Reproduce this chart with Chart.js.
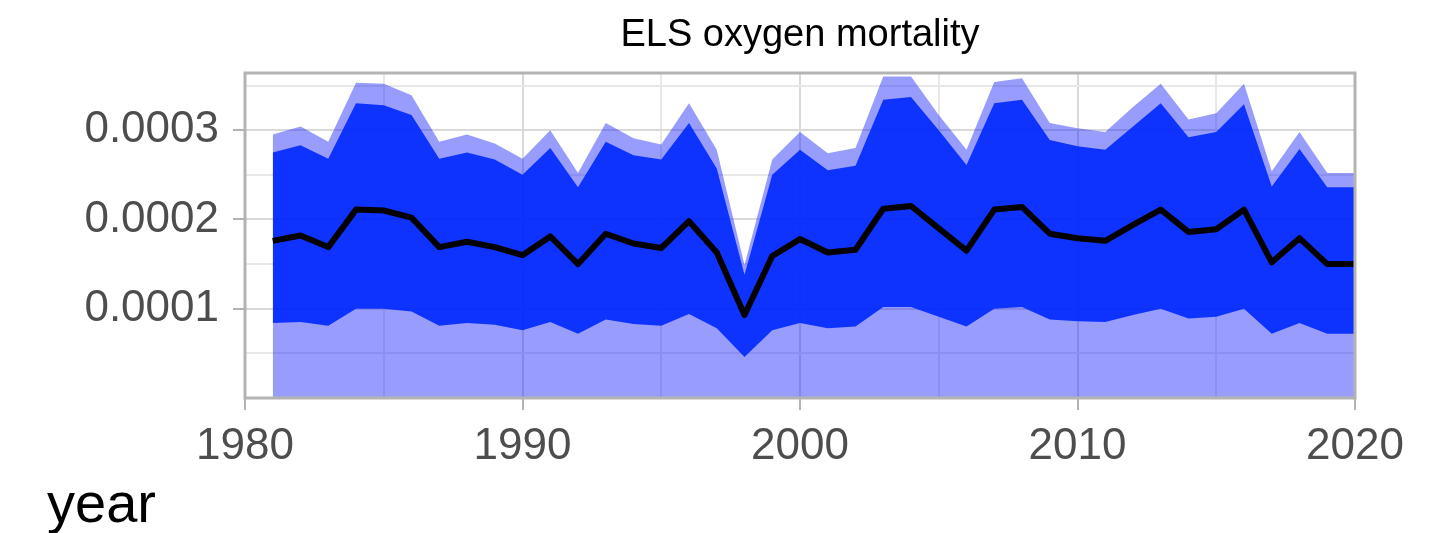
<!DOCTYPE html>
<html>
<head>
<meta charset="utf-8">
<script src="https://cdn.jsdelivr.net/npm/chart.js@4.4.1/dist/chart.umd.min.js"></script>
<style>
  body { margin: 0; background: #fff; }
</style>
</head>
<body>
<canvas id="myChart" width="1439" height="533"></canvas>
<script>
// DADOS

const years = [1981, 1982, 1983, 1984, 1985, 1986, 1987, 1988, 1989, 1990,
    1991, 1992, 1993, 1994, 1995, 1996, 1997, 1998, 1999, 2000,
    2001, 2002, 2003, 2004, 2005, 2006, 2007, 2008, 2009, 2010,
    2011, 2012, 2013, 2014, 2015, 2016, 2017, 2018, 2019, 2020];

const outerHigh = [2.95e-4, 3.04e-4, 2.87e-4, 3.53e-4, 3.52e-4, 3.39e-4, 2.87e-4, 2.95e-4, 2.85e-4, 2.68e-4,
    3.00e-4, 2.52e-4, 3.08e-4, 2.91e-4, 2.84e-4, 3.30e-4, 2.78e-4, 1.49e-4, 2.67e-4, 2.98e-4,
    2.74e-4, 2.80e-4, 3.60e-4, 3.60e-4, 3.17e-4, 2.78e-4, 3.54e-4, 3.58e-4, 3.08e-4, 3.02e-4,
    2.98e-4, 3.26e-4, 3.52e-4, 3.12e-4, 3.19e-4, 3.52e-4, 2.54e-4, 2.98e-4, 2.52e-4, 2.52e-4];

const innerHigh = [2.75e-4, 2.83e-4, 2.68e-4, 3.30e-4, 3.28e-4, 3.17e-4, 2.68e-4, 2.75e-4, 2.67e-4, 2.50e-4,
    2.80e-4, 2.36e-4, 2.87e-4, 2.72e-4, 2.67e-4, 3.08e-4, 2.57e-4, 1.38e-4, 2.50e-4, 2.78e-4,
    2.55e-4, 2.60e-4, 3.34e-4, 3.37e-4, 3.00e-4, 2.61e-4, 3.30e-4, 3.34e-4, 2.89e-4, 2.82e-4,
    2.78e-4, 3.04e-4, 3.30e-4, 2.92e-4, 2.98e-4, 3.29e-4, 2.37e-4, 2.79e-4, 2.36e-4, 2.36e-4];

const median = [1.76e-4, 1.82e-4, 1.69e-4, 2.11e-4, 2.10e-4, 2.02e-4, 1.69e-4, 1.75e-4, 1.69e-4, 1.60e-4,
    1.81e-4, 1.50e-4, 1.84e-4, 1.73e-4, 1.68e-4, 1.98e-4, 1.63e-4, 0.93e-4, 1.59e-4, 1.78e-4,
    1.63e-4, 1.66e-4, 2.12e-4, 2.15e-4, 1.90e-4, 1.65e-4, 2.11e-4, 2.14e-4, 1.84e-4, 1.79e-4,
    1.76e-4, 1.94e-4, 2.11e-4, 1.86e-4, 1.89e-4, 2.11e-4, 1.52e-4, 1.79e-4, 1.50e-4, 1.50e-4];

const innerLow = [0.84e-4, 0.85e-4, 0.81e-4, 1.00e-4, 1.00e-4, 0.97e-4, 0.81e-4, 0.84e-4, 0.82e-4, 0.76e-4,
    0.85e-4, 0.72e-4, 0.88e-4, 0.83e-4, 0.81e-4, 0.94e-4, 0.78e-4, 0.46e-4, 0.76e-4, 0.84e-4,
    0.78e-4, 0.80e-4, 1.02e-4, 1.02e-4, 0.91e-4, 0.80e-4, 1.00e-4, 1.02e-4, 0.88e-4, 0.86e-4,
    0.85e-4, 0.93e-4, 1.00e-4, 0.89e-4, 0.91e-4, 1.00e-4, 0.72e-4, 0.84e-4, 0.72e-4, 0.72e-4];

const yTickLabels = ['0.0001', '0.0002', '0.0003'];
const xTickLabels = [1980, 1990, 2000, 2010, 2020];

function pts(arr) {
    return years.map((yr, i) => ({ x: yr, y: arr[i] }));
}

// so os ticks "cheios" (0.0001, 0.0002...) recebem texto
function yLabel(v) {
    const n = v * 1e4;
    if (Math.abs(n - Math.round(n)) > 1e-6) return '';
    return yTickLabels.find(t => Math.round(Number(t) * 1e4) === Math.round(n)) || '';
}

// PLUGIN: moldura do painel + titulo do eixo x

const panelFrame = {
    id: 'panelFrame',
    afterDatasetsDraw(chart) {
        const a = chart.chartArea;
        const c = chart.ctx;
        c.save();
        c.strokeStyle = '#b3b3b3';
        c.lineWidth = 3;
        c.strokeRect(a.left, a.top, a.right - a.left, a.bottom - a.top);
        c.restore();
    },
    afterDraw(chart) {
        const c = chart.ctx;
        c.save();
        c.fillStyle = '#000';
        c.font = '56px "Liberation Sans", Arial, sans-serif';
        c.textBaseline = 'alphabetic';
        c.textAlign = 'left';
        c.fillText('year', 47, 522);
        c.restore();
    }
};

const ctx = document.getElementById('myChart').getContext('2d');
const myChart = new Chart(ctx, {
    type: 'line',
    data: {
        datasets: [
        {
            data: pts(outerHigh),
            fill: 'origin',
            backgroundColor: 'rgba(30, 40, 250, 0.46)',
            borderColor: 'rgba(0,0,0,0)',
            borderWidth: 0,
            pointRadius: 0,
            order: 3
        },
        {
            data: pts(innerLow),
            fill: false,
            borderColor: 'rgba(0,0,0,0)',
            borderWidth: 0,
            pointRadius: 0,
            order: 2
        },
        {
            data: pts(innerHigh),
            fill: '-1',
            backgroundColor: 'rgba(0, 40, 255, 0.9)',
            borderColor: 'rgba(0,0,0,0)',
            borderWidth: 0,
            pointRadius: 0,
            order: 2
        },
        {
            data: pts(median),
            fill: false,
            borderColor: '#000',
            borderWidth: 6,
            borderJoinStyle: 'round',
            pointRadius: 0,
            order: 1
        }
        ]
    },
    options: {
        responsive: false,
        animation: false,
        layout: { padding: { left: 0, right: 84, top: 0, bottom: 0 } },
        plugins: {
            legend: { display: false },
            tooltip: { enabled: false },
            title: {
                display: true,
                text: 'ELS oxygen mortality',
                fullSize: false,
                color: '#000',
                font: { family: '"Liberation Sans", Arial, sans-serif', size: 38, weight: 'normal' },
                padding: { top: 13, bottom: 14.4 }
            }
        },
        scales: {
            x: {
                type: 'linear',
                min: 1980,
                max: 2020,
                afterFit: s => { s.height = 135; },
                border: { display: false },
                grid: {
                    color: c => (xTickLabels.includes(c.tick.value) ? '#d9d9d9' : '#e8e8e8'),
                    lineWidth: 2,
                    tickLength: 12,
                    tickColor: c => (xTickLabels.includes(c.tick.value) ? '#b3b3b3' : 'rgba(0,0,0,0)'),
                    tickWidth: 2
                },
                ticks: {
                    stepSize: 5,
                    autoSkip: false,
                    maxRotation: 0,
                    padding: 10,
                    color: '#4d4d4d',
                    font: { family: '"Liberation Sans", Arial, sans-serif', size: 44 },
                    callback: v => (xTickLabels.includes(v) ? String(v) : '')
                }
            },
            y: {
                min: 0,
                max: 0.000364,
                afterFit: s => { s.width = 245; },
                border: { display: false },
                grid: {
                    color: c => (yLabel(c.tick.value) ? '#d9d9d9' : '#e8e8e8'),
                    lineWidth: 2,
                    tickLength: 12,
                    tickColor: c => (yLabel(c.tick.value) ? '#b3b3b3' : 'rgba(0,0,0,0)'),
                    tickWidth: 2
                },
                ticks: {
                    stepSize: 0.00005,
                    includeBounds: false,
                    autoSkip: false,
                    padding: 14,
                    color: '#4d4d4d',
                    font: { family: '"Liberation Sans", Arial, sans-serif', size: 44 },
                    callback: v => yLabel(v)
                }
            }
        }
    },
    plugins: [panelFrame]
});
</script>
</body>
</html>
